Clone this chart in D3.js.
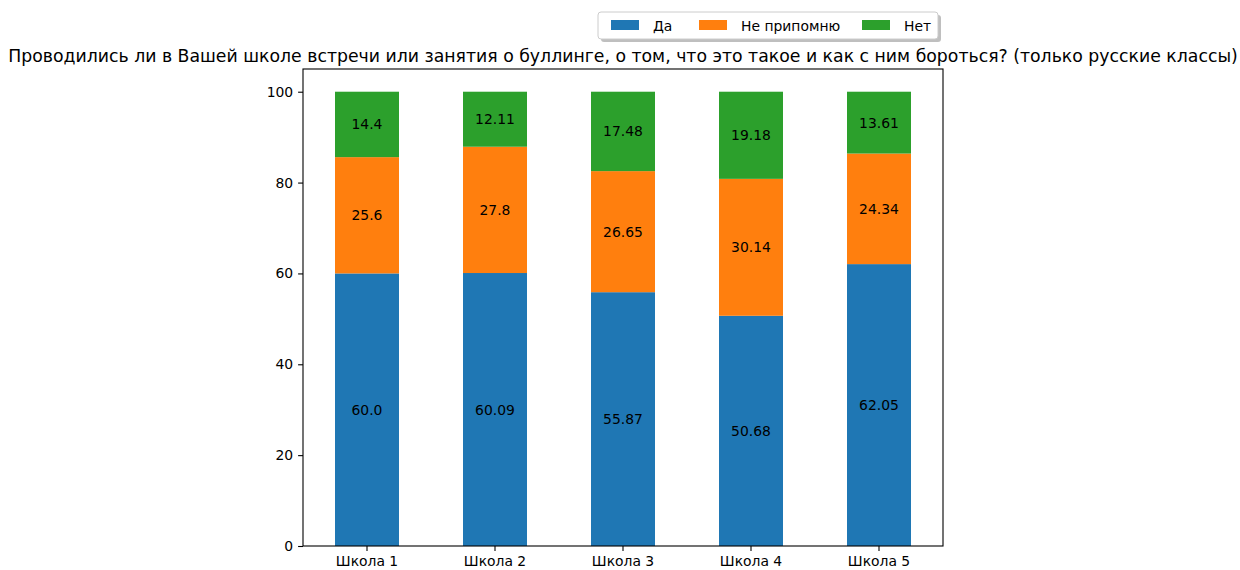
<!DOCTYPE html>
<html><head><meta charset="utf-8">
<script src="https://cdn.jsdelivr.net/npm/d3@7"></script>
<style>body{margin:0;background:#fff}svg{display:block;font-family:"DejaVu Sans",sans-serif}</style>
</head><body><svg id="c" width="1240" height="570"></svg>
<script>
const categories = ["Школа 1","Школа 2","Школа 3","Школа 4","Школа 5"];
const seriesNames = ["Да","Не припомню","Нет"];
const seriesColors = ["#1f77b4","#ff7f0e","#2ca02c"];
const da = [60.0, 60.09, 55.87, 50.68, 62.05];
const nePripomnyu = [25.6, 27.8, 26.65, 30.14, 24.34];
const net = [14.4, 12.11, 17.48, 19.18, 13.61];
const yTicks = [0,20,40,60,80,100];
const title = "Проводились ли в Вашей школе встречи или занятия о буллинге, о том, что это такое и как с ним бороться? (только русские классы)";

const svg = d3.select("#c");
const L=303, R=943, T=69, B=546;
const x = d3.scaleBand().domain(categories).range([L,R]).paddingInner(0.5).paddingOuter(0.25);
const y = d3.scaleLinear().domain([0,105]).range([B,T]);

const seriesVals = [da, nePripomnyu, net];
const rows = categories.map((c,i)=>({cat:c, idx:i, "Да":da[i], "Не припомню":nePripomnyu[i], "Нет":net[i]}));
const stack = d3.stack().keys(seriesNames)(rows);
const fmt = v => Number.isInteger(v) ? v.toFixed(1) : String(v);

stack.forEach((s,si)=>{
  const g = svg.append("g");
  g.selectAll("rect").data(s).enter().append("rect")
    .attr("x", d=>x(d.data.cat)).attr("width", x.bandwidth())
    .attr("y", d=>y(d[1])).attr("height", d=>y(d[0])-y(d[1]))
    .attr("fill", seriesColors[si]);
  g.selectAll("text").data(s).enter().append("text")
    .attr("x", d=>x(d.data.cat)+x.bandwidth()/2)
    .attr("y", d=>y((d[0]+d[1])/2))
    .attr("text-anchor","middle").attr("dominant-baseline","central")
    .attr("font-size","13.9px").attr("fill","#000")
    .text(d=>fmt(seriesVals[si][d.data.idx]));
});

// axes
const ya = svg.append("g").attr("transform",`translate(${L},0)`)
  .call(d3.axisLeft(y).tickValues(yTicks).tickSize(4.9).tickPadding(4.9));
const xa = svg.append("g").attr("transform",`translate(0,${B})`)
  .call(d3.axisBottom(x).tickSize(4.9).tickPadding(4.9));
[ya,xa].forEach(a=>{
  a.select(".domain").remove();
  a.selectAll("line").attr("stroke","#000").attr("stroke-width",1.1);
  a.selectAll("text").attr("font-size","13.9px").attr("fill","#000").attr("font-family","DejaVu Sans");
});
svg.append("rect").attr("x",L).attr("y",T).attr("width",R-L).attr("height",B-T)
  .attr("fill","none").attr("stroke","#000").attr("stroke-width",1.1);

// title
svg.append("text").attr("x",(L+R)/2).attr("y",T-7).attr("text-anchor","middle")
  .attr("font-size","17.3px").attr("fill","#000").text(title);

// legend
const lg = svg.append("g");
const lx=598, ly=12, lw=340, lh=27;
lg.append("rect").attr("x",lx+3).attr("y",ly+3).attr("width",lw).attr("height",lh).attr("rx",3).attr("fill","#808080").attr("opacity",0.5);
lg.append("rect").attr("x",lx).attr("y",ly).attr("width",lw).attr("height",lh).attr("rx",3).attr("fill","#fff").attr("stroke","#ccc");
const entX = [611, 699, 862];
seriesNames.forEach((n,i)=>{
  lg.append("rect").attr("x",entX[i]).attr("y",ly+8).attr("width",28).attr("height",10).attr("fill",seriesColors[i]);
  lg.append("text").attr("x",entX[i]+42).attr("y",ly+lh/2+0.5).attr("dominant-baseline","central")
    .attr("font-size","13.9px").attr("fill","#000").text(n);
});
</script></body></html>
